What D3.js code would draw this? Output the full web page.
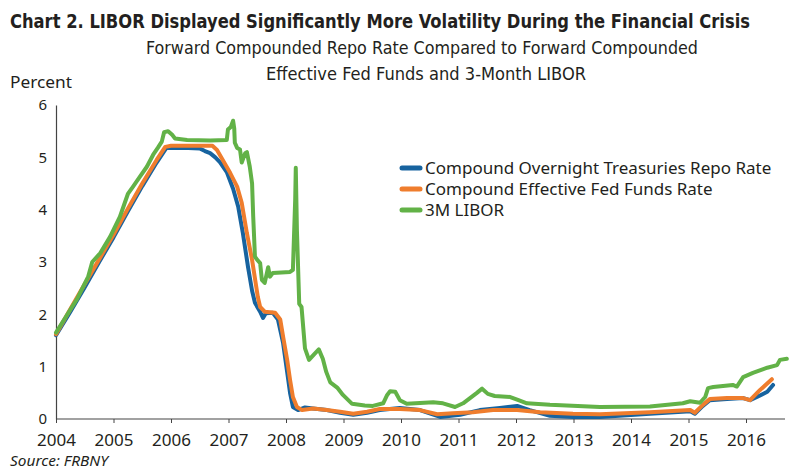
<!DOCTYPE html>
<html>
<head>
<meta charset="utf-8">
<script src="https://cdn.jsdelivr.net/npm/d3@7"></script>
<style>
  body { margin: 0; background: #fff; }
  svg { display: block; }
</style>
</head>
<body>
<svg id="chart" width="803" height="473"></svg>
<script>
// Chart 2 data (year fraction, percent)

const repoYears = [2004.00, 2004.25, 2004.50, 2004.75, 2005.00, 2005.25, 2005.50, 2005.75, 2005.92, 2006.30, 2006.50, 2006.59, 2006.68, 2006.77, 2006.85, 2006.97, 2007.08, 2007.17, 2007.25, 2007.34, 2007.41, 2007.46, 2007.55, 2007.60, 2007.65, 2007.77, 2007.86, 2007.95, 2008.02, 2008.07, 2008.12, 2008.21, 2008.33, 2008.47, 2008.71, 2008.94, 2009.17, 2009.41, 2009.63, 2009.98, 2010.33, 2010.68, 2011.03, 2011.37, 2011.72, 2012.02, 2012.24, 2012.59, 2012.99, 2013.46, 2014.33, 2015.03, 2015.11, 2015.25, 2015.37, 2015.67, 2015.95, 2016.07, 2016.19, 2016.37, 2016.47];
const repoRates = [1.60, 2.05, 2.52, 3.00, 3.47, 3.97, 4.45, 4.90, 5.18, 5.18, 5.17, 5.12, 5.08, 5.00, 4.91, 4.72, 4.40, 4.05, 3.55, 2.90, 2.45, 2.22, 2.05, 1.93, 2.02, 2.03, 1.90, 1.45, 0.90, 0.50, 0.23, 0.17, 0.22, 0.20, 0.17, 0.12, 0.08, 0.12, 0.17, 0.21, 0.17, 0.04, 0.08, 0.17, 0.21, 0.25, 0.17, 0.06, 0.04, 0.04, 0.10, 0.15, 0.10, 0.25, 0.36, 0.38, 0.40, 0.36, 0.42, 0.52, 0.65];

const effrYears = [2004.00, 2004.25, 2004.50, 2004.75, 2005.00, 2005.25, 2005.50, 2005.75, 2005.90, 2006.00, 2006.40, 2006.72, 2006.80, 2006.90, 2007.03, 2007.15, 2007.23, 2007.32, 2007.41, 2007.51, 2007.55, 2007.63, 2007.81, 2007.90, 2007.95, 2008.02, 2008.07, 2008.12, 2008.19, 2008.28, 2008.47, 2008.71, 2008.94, 2009.17, 2009.41, 2009.63, 2009.98, 2010.33, 2010.63, 2010.90, 2011.25, 2011.60, 2012.02, 2012.42, 2012.99, 2013.46, 2014.33, 2015.03, 2015.11, 2015.25, 2015.37, 2015.67, 2015.95, 2016.07, 2016.24, 2016.45];
const effrRates = [1.62, 2.10, 2.58, 3.05, 3.52, 4.02, 4.50, 4.95, 5.20, 5.22, 5.22, 5.22, 5.14, 4.95, 4.70, 4.44, 4.13, 3.55, 3.04, 2.33, 2.14, 2.05, 2.03, 1.90, 1.57, 1.13, 0.75, 0.42, 0.23, 0.17, 0.20, 0.17, 0.14, 0.10, 0.14, 0.19, 0.19, 0.17, 0.09, 0.11, 0.13, 0.17, 0.17, 0.13, 0.10, 0.09, 0.13, 0.17, 0.12, 0.27, 0.38, 0.40, 0.40, 0.36, 0.55, 0.76];

const liborYears = [2004.00, 2004.17, 2004.37, 2004.56, 2004.63, 2004.77, 2004.94, 2005.11, 2005.25, 2005.34, 2005.46, 2005.58, 2005.69, 2005.77, 2005.84, 2005.88, 2005.95, 2006.02, 2006.07, 2006.28, 2006.68, 2006.97, 2006.99, 2007.04, 2007.08, 2007.10, 2007.11, 2007.15, 2007.20, 2007.23, 2007.29, 2007.32, 2007.37, 2007.41, 2007.43, 2007.46, 2007.50, 2007.55, 2007.58, 2007.63, 2007.69, 2007.72, 2007.77, 2008.07, 2008.12, 2008.16, 2008.17, 2008.19, 2008.23, 2008.27, 2008.33, 2008.40, 2008.50, 2008.57, 2008.64, 2008.70, 2008.77, 2008.89, 2008.99, 2009.15, 2009.37, 2009.51, 2009.69, 2009.76, 2009.81, 2009.90, 2009.98, 2010.10, 2010.56, 2010.73, 2010.94, 2011.08, 2011.20, 2011.32, 2011.41, 2011.51, 2011.63, 2011.90, 2012.02, 2012.19, 2012.59, 2013.46, 2014.33, 2014.90, 2015.03, 2015.20, 2015.29, 2015.34, 2015.43, 2015.77, 2015.84, 2015.95, 2016.12, 2016.37, 2016.54, 2016.59, 2016.71];
const liborRates = [1.65, 1.95, 2.30, 2.72, 3.00, 3.17, 3.48, 3.86, 4.30, 4.44, 4.63, 4.82, 5.05, 5.18, 5.30, 5.48, 5.50, 5.43, 5.36, 5.33, 5.32, 5.33, 5.53, 5.58, 5.70, 5.55, 5.28, 5.18, 5.15, 4.90, 5.08, 5.10, 4.82, 4.50, 3.86, 3.10, 3.04, 2.98, 2.66, 2.60, 2.90, 2.72, 2.79, 2.81, 2.85, 4.20, 4.80, 3.60, 2.20, 2.14, 1.35, 1.13, 1.25, 1.33, 1.15, 0.90, 0.70, 0.60, 0.46, 0.29, 0.26, 0.25, 0.30, 0.46, 0.53, 0.52, 0.36, 0.29, 0.32, 0.30, 0.23, 0.30, 0.40, 0.50, 0.58, 0.48, 0.44, 0.42, 0.37, 0.30, 0.27, 0.23, 0.24, 0.30, 0.34, 0.31, 0.42, 0.59, 0.61, 0.65, 0.62, 0.80, 0.88, 0.98, 1.03, 1.13, 1.15];

const yearTicks = [2004, 2005, 2006, 2007, 2008, 2009, 2010, 2011, 2012, 2013, 2014, 2015, 2016];
const rateTicks = [0, 1, 2, 3, 4, 5, 6];

const seriesNames = ["Compound Overnight Treasuries Repo Rate", "Compound Effective Fed Funds Rate", "3M LIBOR"];
const seriesColors = ["#17639f", "#ef7d2d", "#62b247"];

const svg = d3.select("#chart");
const textColor = "#231f20";
const narrow = "'Liberation Sans Narrow', 'DejaVu Sans Condensed', sans-serif";
const plain = "'Noto Sans', 'DejaVu Sans', sans-serif";

let x = d3.scaleLinear().domain([2004, 2016.678]).range([56, 785]);
let y = d3.scaleLinear().domain([0, 6]).range([419, 105]);

// titles
svg.append("text")
    .attr("x", 10).attr("y", 28)
    .attr("textLength", 740).attr("lengthAdjust", "spacingAndGlyphs")
    .style("font-family", narrow).style("font-weight", "bold").style("font-size", "19px")
    .style("fill", textColor)
    .text("Chart 2. LIBOR Displayed Significantly More Volatility During the Financial Crisis");

svg.append("text")
    .attr("x", 146).attr("y", 54)
    .attr("textLength", 552).attr("lengthAdjust", "spacingAndGlyphs")
    .style("font-family", narrow).style("font-size", "17px")
    .style("fill", textColor)
    .text("Forward Compounded Repo Rate Compared to Forward Compounded");

svg.append("text")
    .attr("x", 266).attr("y", 80)
    .attr("textLength", 320).attr("lengthAdjust", "spacingAndGlyphs")
    .style("font-family", narrow).style("font-size", "17px")
    .style("fill", textColor)
    .text("Effective Fed Funds and 3-Month LIBOR");

svg.append("text")
    .attr("x", 10).attr("y", 88)
    .attr("textLength", 62).attr("lengthAdjust", "spacingAndGlyphs")
    .style("font-family", plain).style("font-size", "17px")
    .style("fill", textColor)
    .text("Percent");

// axes
let yAxis = svg.append("g")
    .attr("transform", "translate(56,0)")
    .call(d3.axisLeft(y).tickValues(rateTicks).tickFormat(d3.format("d")).tickSize(0).tickPadding(9));

let xAxis = svg.append("g")
    .attr("transform", "translate(0,419)")
    .call(d3.axisBottom(x).tickValues(yearTicks).tickFormat(d3.format("d"))
        .tickSizeInner(4).tickSizeOuter(0).tickPadding(11));

[yAxis, xAxis].forEach(g => {
    g.select(".domain").attr("stroke", "#444").attr("stroke-width", 1.2);
    g.selectAll(".tick line").attr("stroke", "#444");
    g.selectAll("text")
        .style("font-family", plain).style("font-size", "17px")
        .style("fill", textColor);
});
xAxis.select(".domain").attr("d", "M" + x.range()[0] + ",0H" + x.range()[1]);
yAxis.selectAll("text").style("font-size", "15px");

// lines
const line = d3.line().x(d => x(d[0])).y(d => y(d[1]));
const series = [
    d3.zip(repoYears, repoRates),
    d3.zip(effrYears, effrRates),
    d3.zip(liborYears, liborRates)
];

series.forEach((s, i) => {
    svg.append("path").datum(s)
        .attr("class", "series")
        .attr("fill", "none")
        .attr("stroke", seriesColors[i])
        .attr("stroke-width", 4)
        .attr("stroke-linejoin", "round")
        .attr("stroke-linecap", "round")
        .attr("d", line);
});

// legend
let legend = svg.append("g").attr("transform", "translate(400,168)");
seriesNames.forEach((name, i) => {
    let row = legend.append("g").attr("transform", "translate(0," + (i * 21) + ")");
    row.append("line")
        .attr("x1", 2).attr("x2", 20)
        .attr("stroke", seriesColors[i])
        .attr("stroke-width", 5)
        .attr("stroke-linecap", "round");
    row.append("text")
        .attr("x", 25).attr("y", 6)
        .style("font-family", plain).style("font-size", "17px")
        .style("fill", textColor)
        .text(name);
});

// source note
svg.append("text")
    .attr("x", 10).attr("y", 466)
    .attr("textLength", 98).attr("lengthAdjust", "spacingAndGlyphs")
    .style("font-family", plain).style("font-style", "italic").style("font-size", "15px")
    .style("fill", textColor)
    .text("Source: FRBNY");
</script>
</body>
</html>
